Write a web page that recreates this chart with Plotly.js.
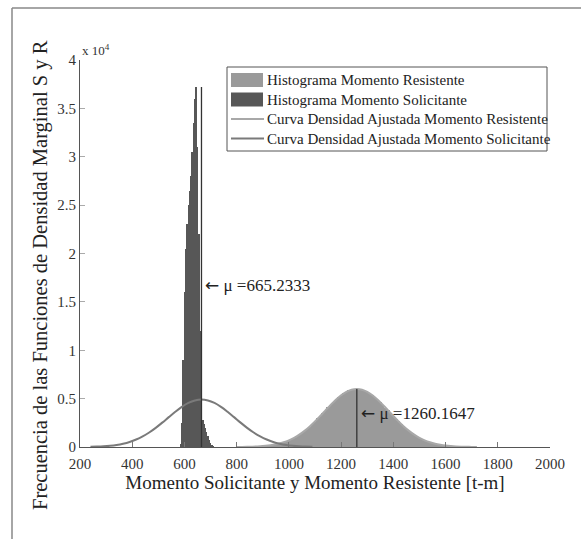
<!DOCTYPE html>
<html>
<head>
<meta charset="utf-8">
<script src="https://cdn.plot.ly/plotly-3.0.1.min.js"></script>
<style>html,body{margin:0;padding:0;background:#fff;}#chart{width:581px;height:539px;}</style>
</head>
<body>
<div id="chart"></div>
<script>
// Histogram of resisting moment (bin centers, counts)
const resBins = [900,910,920,930,940,950,960,970,980,990,1000,1010,1020,1030,1040,1050,1060,1070,1080,1090,1100,1110,1120,1130,1140,1150,1160,1170,1180,1190,1200,1210,1220,1230,1240,1250,1260,1270,1280,1290,1300,1310,1320,1330,1340,1350,1360,1370,1380,1390,1400,1410,1420,1430,1440,1450,1460,1470,1480,1490,1500,1510,1520,1530,1540,1550,1560,1570,1580,1590,1600,1610,1620,1630,1640,1650,1660,1670,1680,1690,1700];
const resCounts = [90,125,145,190,220,285,330,415,480,590,680,825,940,1120,1260,1480,1650,1910,2110,2400,2630,2950,3180,3520,3760,4110,4330,4680,4860,5180,5320,5590,5680,5870,5900,6020,5990,5960,5940,5810,5720,5520,5360,5110,4900,4610,4370,4060,3800,3480,3210,2910,2650,2370,2140,1880,1670,1460,1280,1100,955,810,695,580,490,405,340,280,230,185,150,120,95,75,60,45,36,28,22,16,12];

// Histogram of acting moment
const solBins = [585,590,595,600,605,610,615,620,625,630,635,640,645,650,655,660,665,670,675,680,685,690,695,700,705,710,715];
const solCounts = [300,2500,9000,16000,20500,23000,25000,26500,28000,30500,33500,36000,37200,31000,22000,12000,4500,2800,2400,2000,1500,1100,700,450,250,120,50];

// Fitted density curve, resisting moment
const resCurveX = [800,820,840,860,880,900,920,940,960,980,1000,1020,1040,1060,1080,1100,1120,1140,1160,1180,1200,1220,1240,1260,1280,1300,1320,1340,1360,1380,1400,1420,1440,1460,1480,1500,1520,1540,1560,1580,1600,1620,1640,1660,1680,1700,1720];
const resCurveY = [7,12,21,36,59,95,148,227,337,488,690,950,1275,1668,2128,2645,3205,3785,4357,4889,5347,5700,5924,6000,5924,5700,5347,4889,4357,3785,3205,2645,2128,1668,1275,950,690,488,337,227,148,95,59,36,21,12,7];

// Fitted density curve, acting moment
const solCurveX = [240,265,290,315,340,365,390,415,440,465,490,515,540,565,590,615,640,665,690,715,740,765,790,815,840,865,890,915,940,965,990,1015,1040,1065,1090];
const solCurveY = [23,43,76,131,215,342,523,771,1096,1501,1980,2518,3086,3645,4149,4551,4810,4900,4810,4551,4149,3645,3086,2518,1980,1501,1096,771,523,342,215,131,76,43,23];

// Means and the heights of their marker lines
const means = [665.2333, 1260.1647];
const meanLineTops = [37200, 6000];
const meanLabels = ["\u03bc =665.2333", "\u03bc =1260.1647"];
const meanLabelY = [16700, 3550];

// Axis ticks
const xTicks = [200,400,600,800,1000,1200,1400,1600,1800,2000];
const yTickVals = [0,5000,10000,15000,20000,25000,30000,35000,40000];
const yTickText = ["0","0.5","1","1.5","2","2.5","3","3.5","4"];

// Series names / colours
const seriesNames = ['Histograma Momento Resistente','Histograma Momento Solicitante',
  'Curva Densidad Ajustada Momento Resistente','Curva Densidad Ajustada Momento Solicitante'];
const seriesColors = ['#9a9a9a','#575757','#a8a8a8','#7a7a7a'];

const serif = "Liberation Serif, Times New Roman, serif";

const traces = [
  {type:'bar', x:resBins, y:resCounts, width:12, name:seriesNames[0],
   marker:{color:seriesColors[0], line:{width:0}}},
  {type:'bar', x:solBins, y:solCounts, width:6.5, name:seriesNames[1],
   marker:{color:seriesColors[1], line:{width:0}}},
  {type:'scatter', mode:'lines', x:resCurveX, y:resCurveY, name:seriesNames[2],
   line:{color:seriesColors[2], width:2, shape:'spline'}},
  {type:'scatter', mode:'lines', x:solCurveX, y:solCurveY, name:seriesNames[3],
   line:{color:seriesColors[3], width:2, shape:'spline'}}
];
means.forEach((m,i)=>{
  traces.push({type:'scatter', mode:'lines', x:[m,m], y:[0, meanLineTops[i]], showlegend:false,
    line:{color:'#333', width:1.3}, hoverinfo:'skip'});
});

// pixel -> paper helpers for the figure furniture (plot area: x 80..550, y 60..447)
const PL=80, PW=470, PB=447, PH=387;
const px = v => (v-PL)/PW;
const py = v => (PB-v)/PH;

const arrow = '<span style="font-family:DejaVu Sans;font-size:17px">\u2190</span> ';
const annotations = means.map((m,i)=>({
  x:m, y:meanLabelY[i], xref:'x', yref:'y', text:arrow + meanLabels[i], showarrow:false,
  xanchor:'left', yanchor:'middle', xshift:2, font:{family:serif, size:17, color:'#222'}
}));
annotations.push({x:0, y:1, xref:'paper', yref:'paper', xanchor:'left', yanchor:'bottom',
  text:'x 10<sup>4</sup>', showarrow:false, font:{family:serif, size:13, color:'#333'}});
annotations.push({x:px(40), y:py(275), xref:'paper', yref:'paper', xanchor:'center', yanchor:'middle',
  textangle:-90, showarrow:false, text:'Frecuencia de las Funciones de Densidad Marginal S y R',
  font:{family:serif, size:20.5, color:'#222'}});

// manual legend (MATLAB style)
const legRows = [80, 99.5, 119, 138.5];
const shapes = [
  {type:'line', xref:'paper', yref:'paper', x0:px(12), x1:px(12), y0:py(8), y1:py(545), line:{color:'#888', width:1.5}},
  {type:'line', xref:'paper', yref:'paper', x0:px(12), x1:px(590), y0:py(8), y1:py(8), line:{color:'#888', width:1.5}},
  {type:'rect', xref:'paper', yref:'paper', x0:px(227), x1:px(547), y0:py(67), y1:py(151), line:{color:'#555', width:1}, fillcolor:'#fff'}
];
seriesNames.forEach((n,i)=>{
  if (i<2) {
    shapes.push({type:'rect', xref:'paper', yref:'paper', x0:px(231), x1:px(263), y0:py(legRows[i]-7), y1:py(legRows[i]+7),
      line:{width:0}, fillcolor:seriesColors[i]});
  } else {
    shapes.push({type:'line', xref:'paper', yref:'paper', x0:px(231), x1:px(264), y0:py(legRows[i]), y1:py(legRows[i]),
      line:{color:seriesColors[i], width:2}});
  }
  annotations.push({x:px(265), y:py(legRows[i]), xref:'paper', yref:'paper', xanchor:'left', yanchor:'middle',
    text:n, showarrow:false, font:{family:serif, size:15, color:'#222'}});
});

const layout = {
  width:581, height:539,
  margin:{l:PL, r:581-PL-PW, t:60, b:539-PB},
  paper_bgcolor:'#fff', plot_bgcolor:'#fff',
  barmode:'overlay', bargap:0,
  font:{family:serif, color:'#222'},
  showlegend:false,
  xaxis:{range:[200,2000], tickvals:xTicks, ticks:'inside', ticklen:5, tickcolor:'#777',
    showline:true, linecolor:'#555', linewidth:1, showgrid:false, zeroline:false,
    ticklabelstandoff:3,
    tickfont:{family:serif, size:15, color:'#333'},
    title:{text:'Momento Solicitante y Momento Resistente [t-m]', font:{family:serif, size:19, color:'#222'}, standoff:1}},
  yaxis:{range:[0,40000], tickvals:yTickVals, ticktext:yTickText, ticks:'inside', ticklen:5, tickcolor:'#aaa',
    showline:true, linecolor:'#555', linewidth:1, showgrid:false, zeroline:false,
    tickfont:{family:serif, size:15, color:'#333'}},
  annotations:annotations,
  shapes:shapes
};

Plotly.newPlot('chart', traces, layout, {staticPlot:true, displayModeBar:false});
</script>
</body>
</html>
